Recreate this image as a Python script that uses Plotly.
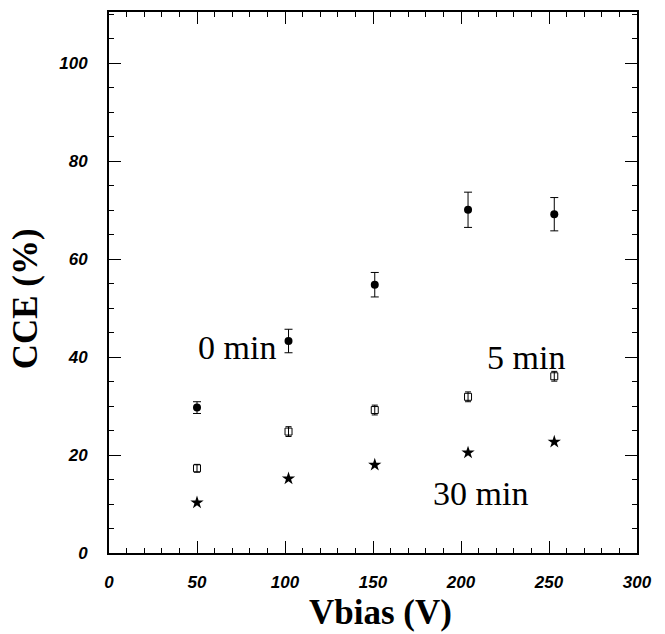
import plotly.graph_objects as go

# Bias voltages (V) and charge collection efficiency (%) after irradiation times
vbias = [50, 102, 151, 204, 253]

cce_0min = [29.7, 43.3, 54.8, 70.1, 69.2]
err_0min = [1.2, 2.4, 2.5, 3.6, 3.4]

cce_5min = [17.3, 24.8, 29.2, 31.9, 36.1]
err_5min = [0.8, 1.0, 1.0, 1.0, 1.0]

cce_30min = [10.3, 15.2, 18.0, 20.5, 22.7]

curve_labels = ["0 min", "5 min", "30 min"]
label_x = [73, 237, 211]
label_y = [42.0, 40.0, 12.2]

fig = go.Figure()

fig.add_trace(go.Scatter(
    x=vbias, y=cce_0min, mode="markers",
    marker=dict(symbol="circle", size=8, color="black"),
    error_y=dict(type="data", array=err_0min, color="black", thickness=1, width=4),
    showlegend=False,
))
fig.add_trace(go.Scatter(
    x=vbias, y=cce_5min, mode="markers",
    marker=dict(symbol="square-open", size=7, color="black", line=dict(width=1)),
    error_y=dict(type="data", array=err_5min, color="black", thickness=1, width=3),
    showlegend=False,
))
fig.add_trace(go.Scatter(
    x=vbias, y=cce_30min, mode="markers",
    marker=dict(symbol="star", size=10, color="black"),
    showlegend=False,
))

for txt, tx, ty in zip(curve_labels, label_x, label_y):
    fig.add_annotation(
        x=tx, y=ty, text=txt, showarrow=False,
        font=dict(family="Liberation Serif", size=34, color="black"),
    )

# Axis titles
title_font = dict(family="Liberation Serif", size=35, color="black", weight="bold")
fig.add_annotation(
    xref="paper", yref="paper", x=-0.158, y=0.47, text="CCE (%)",
    xanchor="center", yanchor="middle",
    textangle=-90, showarrow=False, font=title_font,
)
fig.add_annotation(
    xref="paper", yref="paper", x=0.515, y=-0.11, text="Vbias (V)",
    xanchor="center", yanchor="middle",
    showarrow=False, font=title_font,
)

axis_common = dict(
    showgrid=False, zeroline=False,
    showline=True, linecolor="black", linewidth=1.8, mirror="ticks",
    ticks="inside", ticklen=12, tickwidth=1.2, tickcolor="black",
    tickfont=dict(family="Liberation Sans", size=17, color="black",
                  weight="bold", style="italic"),
)

fig.update_xaxes(
    range=[0, 300], tickvals=[0, 50, 100, 150, 200, 250, 300],
    minor=dict(ticks="inside", ticklen=5, tickcolor="black", dtick=10),
    ticklabelstandoff=13,
    **axis_common,
)
fig.update_yaxes(
    range=[0, 110.5], tickvals=[0, 20, 40, 60, 80, 100],
    minor=dict(ticks="inside", ticklen=5, tickcolor="black", dtick=5),
    ticklabelstandoff=16,
    **axis_common,
)

fig.update_layout(
    width=665, height=634,
    margin=dict(l=109, r=28, t=10, b=81),
    paper_bgcolor="white", plot_bgcolor="white",
)

fig.write_html("out.html")
